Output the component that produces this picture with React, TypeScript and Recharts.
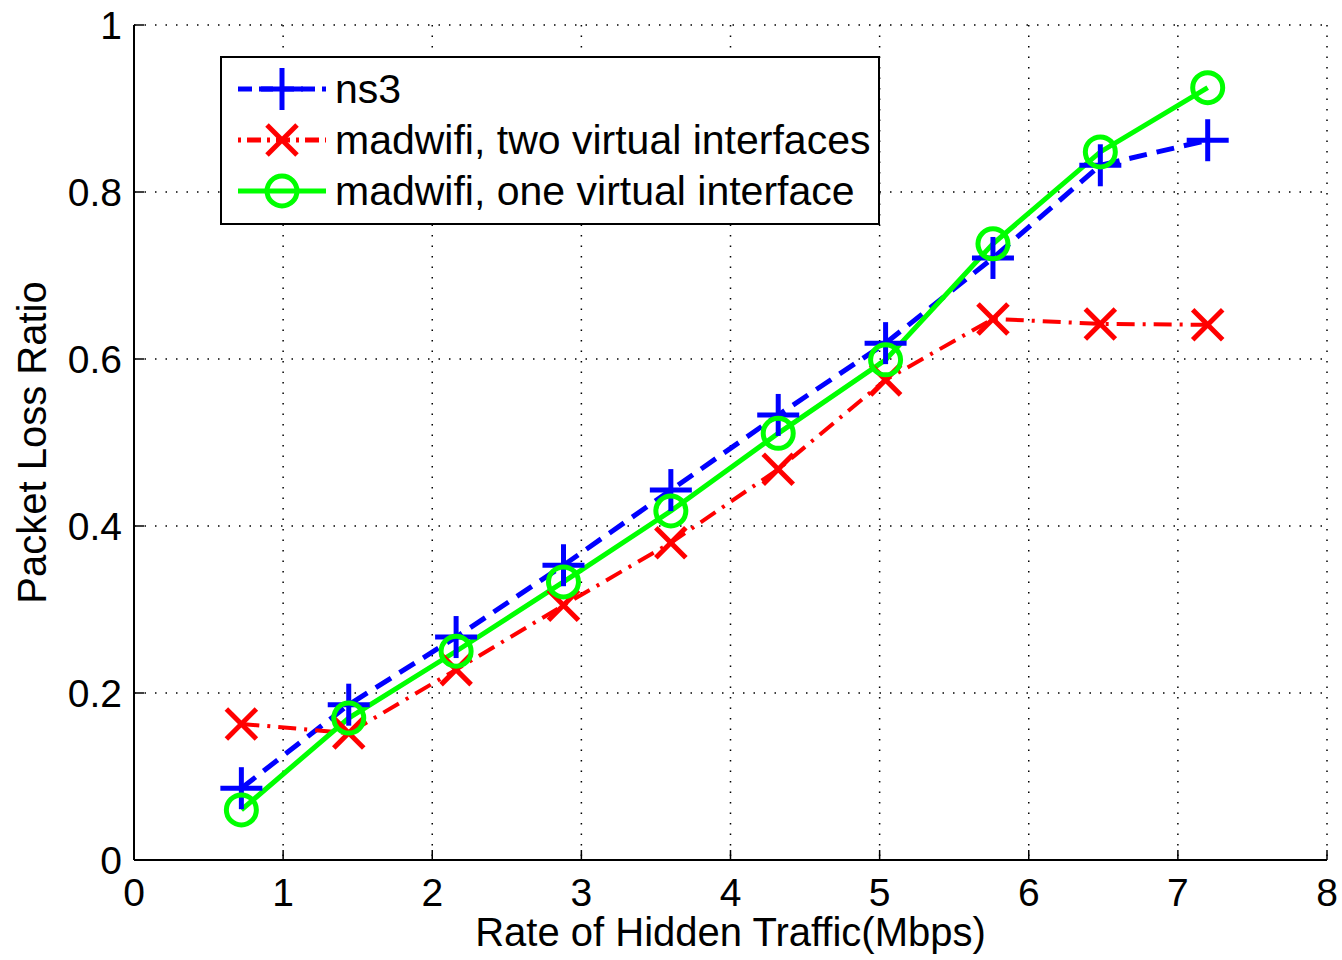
import React from 'react';
import {
  LineChart,
  Line,
  XAxis,
  YAxis,
  CartesianGrid,
} from 'recharts';

const rates = [0.72, 1.44, 2.16, 2.88, 3.6, 4.32, 5.04, 5.76, 6.48, 7.2];
const ns3 = [0.086, 0.186, 0.267, 0.353, 0.443, 0.533, 0.619, 0.721, 0.832, 0.862];
const twoIfaces = [0.163, 0.152, 0.228, 0.305, 0.38, 0.468, 0.575, 0.648, 0.642, 0.641];
const oneIface = [0.06, 0.17, 0.25, 0.333, 0.418, 0.511, 0.599, 0.738, 0.848, 0.925];

const xTicks = [0, 1, 2, 3, 4, 5, 6, 7, 8];
const yTicks = [0, 0.2, 0.4, 0.6, 0.8, 1];

const legendLabels = {
  ns3: 'ns3',
  two: 'madwifi, two virtual interfaces',
  one: 'madwifi, one virtual interface',
};

const data = rates.map((r, i) => ({
  rate: r,
  ns3: ns3[i],
  two: twoIfaces[i],
  one: oneIface[i],
}));

const FONT = '"Liberation Sans", Arial, Helvetica, sans-serif';
const BLUE = '#0000ff';
const RED = '#ff0000';
const GREEN = '#00ff00';

const PlusDot = (props: any) => {
  const { cx, cy } = props;
  if (cx == null || cy == null) return null;
  return (
    <g key={`p-${props.index}`}>
      <line x1={cx - 21} y1={cy} x2={cx + 21} y2={cy} stroke={BLUE} strokeWidth={5} />
      <line x1={cx} y1={cy - 21} x2={cx} y2={cy + 21} stroke={BLUE} strokeWidth={5} />
    </g>
  );
};

const CrossDot = (props: any) => {
  const { cx, cy } = props;
  if (cx == null || cy == null) return null;
  const s = 15;
  return (
    <g key={`x-${props.index}`}>
      <line x1={cx - s} y1={cy - s} x2={cx + s} y2={cy + s} stroke={RED} strokeWidth={5} />
      <line x1={cx - s} y1={cy + s} x2={cx + s} y2={cy - s} stroke={RED} strokeWidth={5} />
    </g>
  );
};

const CircleDot = (props: any) => {
  const { cx, cy } = props;
  if (cx == null || cy == null) return null;
  return (
    <circle key={`o-${props.index}`} cx={cx} cy={cy} r={15} fill="none" stroke={GREEN} strokeWidth={5} />
  );
};

const legendRows = [
  { key: 'ns3', color: BLUE, dash: '14 7', marker: 'plus' },
  { key: 'two', color: RED, dash: '3 6 14 6', marker: 'cross' },
  { key: 'one', color: GREEN, dash: undefined, marker: 'circle' },
];

// legend box sits over the upper-left part of the plot
const LegendBox = () => (
  <div
    style={{
      position: 'absolute',
      left: 220,
      top: 56,
      width: 660,
      height: 169,
      border: '2px solid #000',
      background: '#fff',
      boxSizing: 'border-box',
      fontFamily: FONT,
      fontSize: 41,
      color: '#000',
      paddingTop: 6,
    }}
  >
    {legendRows.map((row) => (
      <div key={row.key} style={{ display: 'flex', alignItems: 'center', height: 51 }}>
        <svg width={113} height={51} style={{ flex: 'none' }}>
          <line
            x1={16}
            y1={25}
            x2={104}
            y2={25}
            stroke={row.color}
            strokeWidth={5}
            strokeDasharray={row.dash}
          />
          {row.marker === 'plus' && <PlusDot cx={60} cy={25} index={0} />}
          {row.marker === 'cross' && <CrossDot cx={60} cy={25} index={0} />}
          {row.marker === 'circle' && <CircleDot cx={60} cy={25} index={0} />}
        </svg>
        <span style={{ lineHeight: '51px', whiteSpace: 'nowrap' }}>
          {legendLabels[row.key as keyof typeof legendLabels]}
        </span>
      </div>
    ))}
  </div>
);

const tickStyle = { fill: '#000', fontSize: 39, fontFamily: FONT };

export default function App() {
  return (
    <div style={{ position: 'absolute', left: 0, top: 0, width: 1342, height: 960, background: '#fff' }}>
      <LineChart
        width={1342}
        height={960}
        data={data}
        margin={{ top: 25, right: 15, left: 0, bottom: 0 }}
      >
        <CartesianGrid
          stroke="#000"
          strokeWidth={1.5}
          strokeDasharray="1.5 9"
          horizontalValues={yTicks}
          verticalValues={xTicks}
        />
        <XAxis
          dataKey="rate"
          type="number"
          domain={[0, 8]}
          ticks={xTicks}
          height={100}
          stroke="#000"
          strokeWidth={2}
          tickSize={-10}
          tickMargin={28}
          tick={tickStyle}
          tickLine={{ stroke: '#000', strokeWidth: 1.5 }}
          label={{
            value: 'Rate of Hidden Traffic(Mbps)',
            position: 'insideBottom',
            offset: 14,
            fill: '#000',
            fontSize: 40,
            fontFamily: FONT,
          }}
        />
        <XAxis
          xAxisId="top"
          dataKey="rate"
          type="number"
          orientation="top"
          domain={[0, 8]}
          ticks={xTicks}
          height={0}
          stroke="#000"
          strokeWidth={2}
          tickSize={-10}
          tick={false}
          tickLine={{ stroke: '#000', strokeWidth: 1.5 }}
        />
        <YAxis
          type="number"
          domain={[0, 1]}
          ticks={yTicks}
          width={134}
          stroke="#000"
          strokeWidth={2}
          tickSize={-10}
          tickMargin={22}
          tick={tickStyle}
          tickLine={{ stroke: '#000', strokeWidth: 1.5 }}
          tickFormatter={(v: number) => (v === 0 || v === 1 ? String(v) : v.toFixed(1))}
          label={{
            value: 'Packet Loss Ratio',
            angle: -90,
            position: 'insideLeft',
            offset: 32,
            style: { textAnchor: 'middle' },
            fill: '#000',
            fontSize: 40,
            fontFamily: FONT,
          }}
        />
        <YAxis
          yAxisId="right"
          type="number"
          orientation="right"
          domain={[0, 1]}
          ticks={yTicks}
          width={0}
          stroke="#000"
          strokeWidth={2}
          tickSize={-10}
          tick={false}
          tickLine={{ stroke: '#000', strokeWidth: 1.5 }}
        />
        <Line
          dataKey="ns3"
          name={legendLabels.ns3}
          type="linear"
          stroke={BLUE}
          strokeWidth={5}
          strokeDasharray="18 10"
          dot={PlusDot}
          activeDot={false}
          isAnimationActive={false}
        />
        <Line
          dataKey="two"
          name={legendLabels.two}
          type="linear"
          stroke={RED}
          strokeWidth={4}
          strokeDasharray="18 8 3 8"
          dot={CrossDot}
          activeDot={false}
          isAnimationActive={false}
        />
        <Line
          dataKey="one"
          name={legendLabels.one}
          type="linear"
          stroke={GREEN}
          strokeWidth={5}
          dot={CircleDot}
          activeDot={false}
          isAnimationActive={false}
        />
      </LineChart>
      <LegendBox />
    </div>
  );
}
